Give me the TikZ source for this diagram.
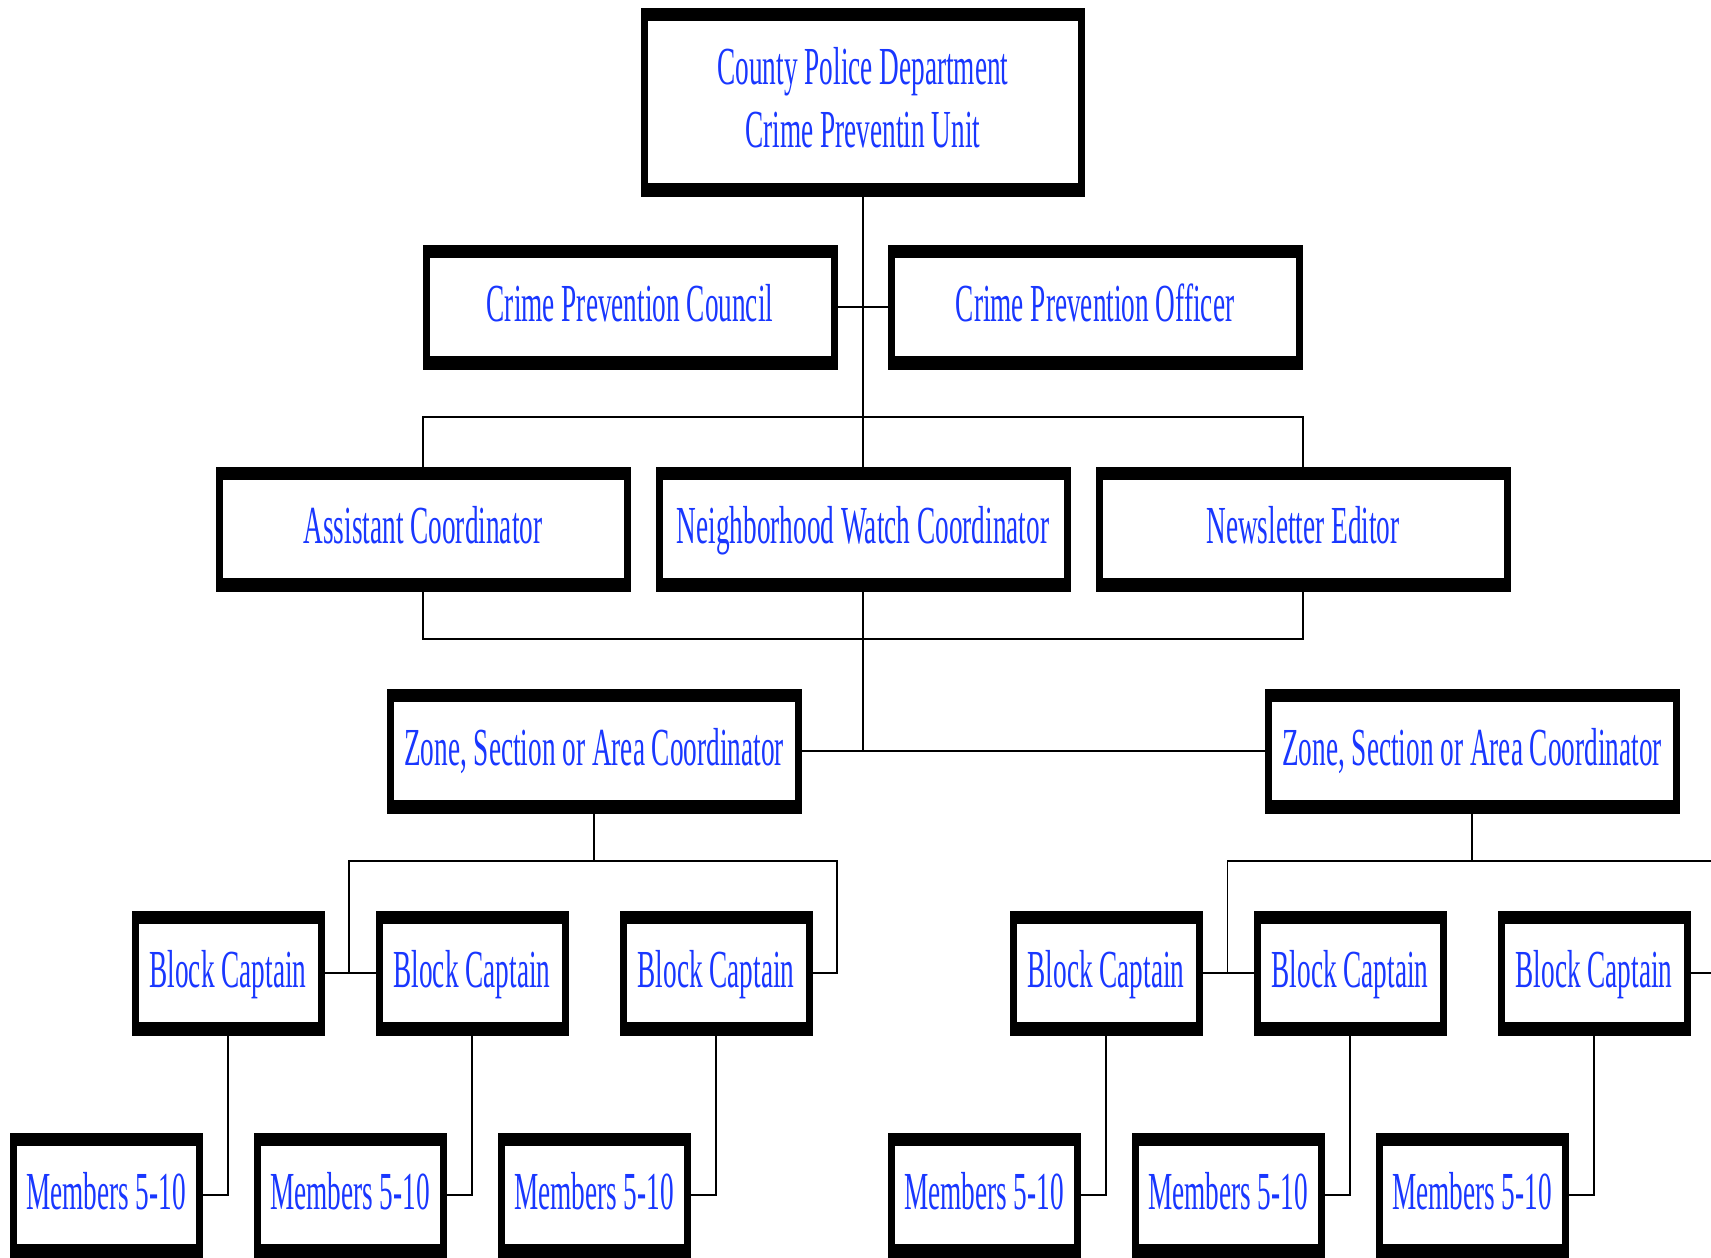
\documentclass[tikz,border=0pt]{standalone}
\usepackage{fontspec}
\setmainfont{Liberation Serif}
\newfontfamily\orgfont{Liberation Serif}[FakeStretch=0.51]
\definecolor{orgblue}{RGB}{25,55,255}
\begin{document}
\begin{tikzpicture}[x=1pt,y=-1pt,
  orgbox/.style={draw=black, fill=white, line width=7pt, inner sep=0pt, outer sep=0pt,
    font=\orgfont\fontsize{53.5}{63}\selectfont, text=orgblue,
    path picture={
      \fill[black] (path picture bounding box.north west) rectangle ([yshift=-9.8pt]path picture bounding box.north east);
      \fill[black] (path picture bounding box.south west) rectangle ([yshift=9.8pt]path picture bounding box.south east);}},
  oneline/.style={orgbox, text height=35pt, text depth=6pt},
  widebox/.style={oneline, minimum width=408pt, minimum height=118pt},
  smallbox/.style={oneline, minimum width=186pt, minimum height=118pt},
  link/.style={line width=1.5pt, line cap=rect},
  stub/.style={line width=2.5pt}]
\useasboundingbox (0,0) rectangle (1711,1258);

% boxes
\node[orgbox, align=center, minimum width=437pt, minimum height=182pt] (top) at (863,102)
  {County Police Department\\Crime Preventin Unit\rule[-9pt]{0pt}{0pt}};
\node[widebox] (cpc) at (630,307) {Crime Prevention Council};
\node[widebox] (cpo) at (1095,307) {Crime Prevention Officer};
\node[widebox] (ac) at (423,529) {Assistant Coordinator};
\node[widebox] (nwc) at (863,529) {Neighborhood Watch Coordinator};
\node[widebox] (ne) at (1303,529) {Newsletter Editor};
\node[widebox] (zl) at (594,751) {Zone, Section or Area Coordinator};
\node[widebox] (zr) at (1472,751) {Zone, Section or Area Coordinator};
\foreach \i/\x in {1/228,2/472,3/716,4/1106,5/1350,6/1594}
  \node[smallbox] (bc\i) at (\x,973) {Block Captain};
\foreach \i/\x in {1/106,2/350,3/594,4/984,5/1228,6/1472}
  \node[smallbox] (m\i) at (\x,1195) {Members 5-10};

% junction coordinates
\coordinate (hTop) at (863,417);
\coordinate (hBot) at (863,639);
\coordinate (zlL) at (349,861);
\coordinate (zlR) at (837,861);
\coordinate (zrL) at (1227.5,861);
\coordinate (edgeTop) at (1711,861);
\coordinate (edgeMid) at (1711,973);

% connectors
\draw[link] (top.south) -- (nwc.north);
\draw[stub] (cpc.east) -- (cpo.west);
\draw[link] (ac.north) |- (hTop) -| (ne.north);
\draw[link] (ac.south) |- (hBot) -| (ne.south);
\draw[link] (nwc.south) -- (nwc.south |- zl.east);
\draw[link, line width=2pt] (zl.east) -- (zr.west);

\draw[link] (zl.south) -- (zl.south |- zlL);
\draw[link] (zlL |- bc1.east) |- (zlR) |- (bc3.east);
\draw[stub] (bc1.east) -- (bc2.west);
\draw[stub] (bc3.east) -- (zlR |- bc3.east);

\draw[link] (zr.south) -- (zr.south |- zrL);
\draw[link] (zrL |- bc4.east) |- (edgeTop);
\draw[stub] (bc4.east) -- (bc5.west);
\draw[stub] (bc6.east) -- (edgeMid);

\foreach \i in {1,...,6}{
  \draw[link] (bc\i.south) |- (m\i.east);
}
\end{tikzpicture}
\end{document}
